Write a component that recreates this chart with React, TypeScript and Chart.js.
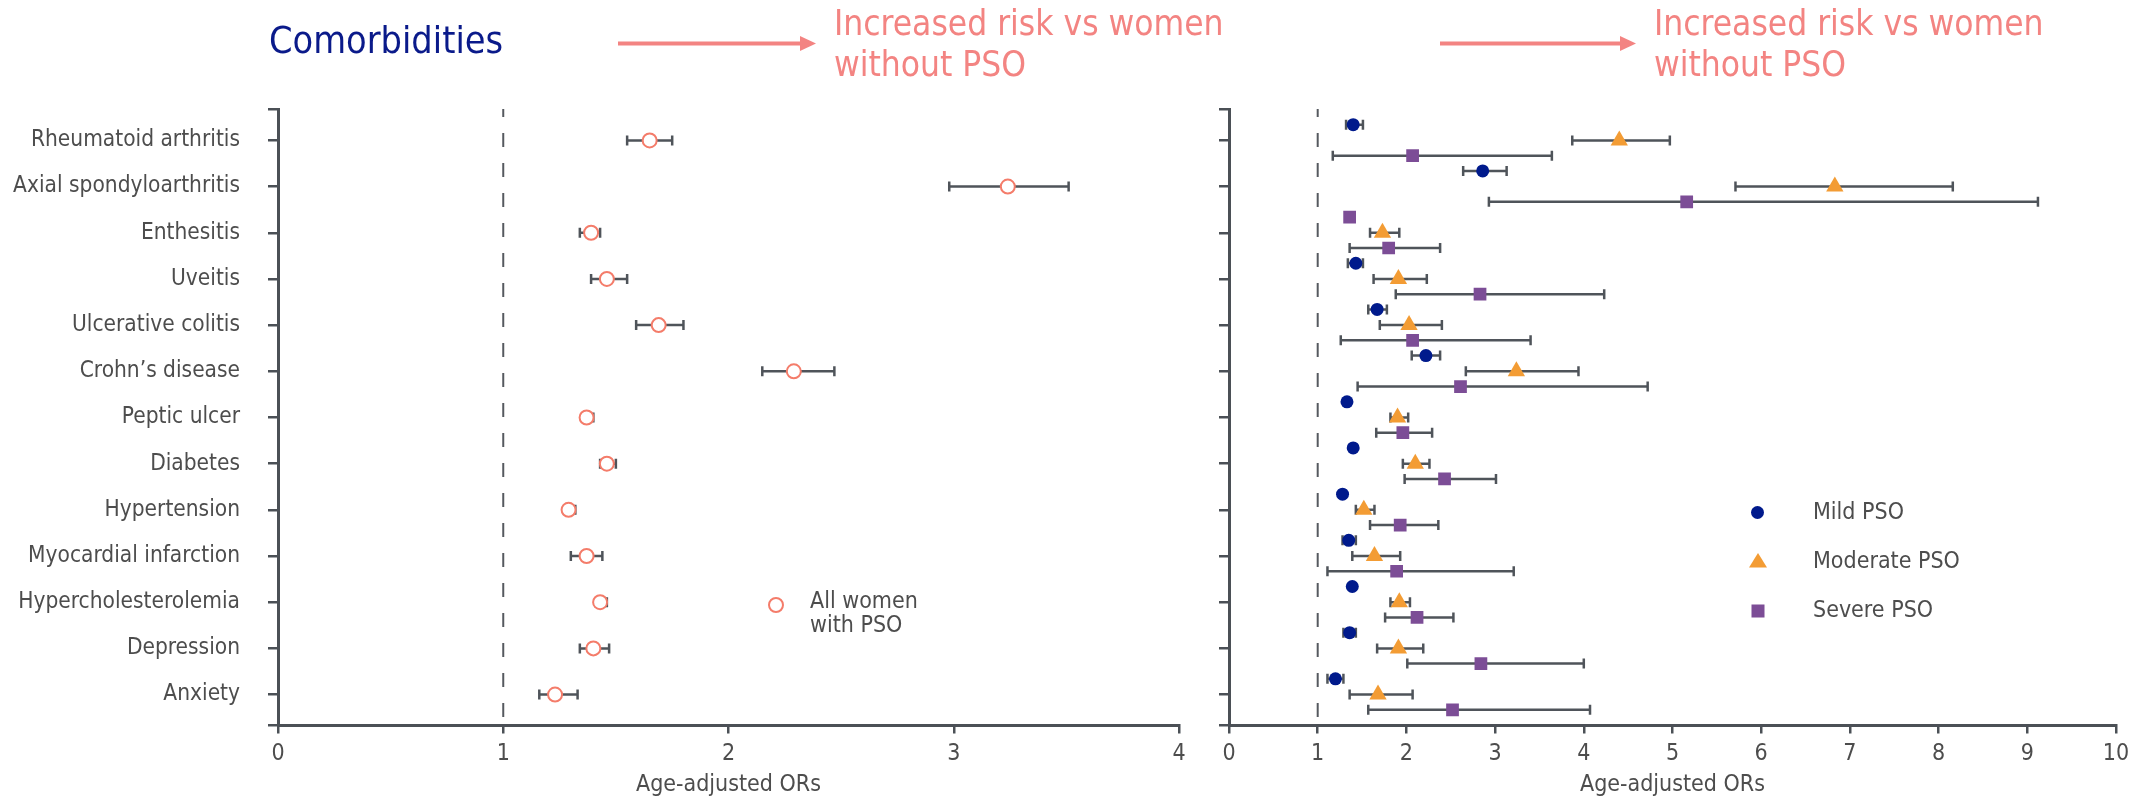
import React, { useEffect, useRef } from 'react';
import { Chart, registerables } from 'chart.js';

Chart.register(...registerables);

// ---------------- data ----------------
const categories = [
  'Rheumatoid arthritis',
  'Axial spondyloarthritis',
  'Enthesitis',
  'Uveitis',
  'Ulcerative colitis',
  'Crohn\u2019s disease',
  'Peptic ulcer',
  'Diabetes',
  'Hypertension',
  'Myocardial infarction',
  'Hypercholesterolemia',
  'Depression',
  'Anxiety',
];

const allWomenOR = [1.65, 3.24, 1.39, 1.46, 1.69, 2.29, 1.37, 1.46, 1.29, 1.37, 1.43, 1.40, 1.23];
const allWomenLow = [1.55, 2.98, 1.34, 1.39, 1.59, 2.15, 1.35, 1.43, 1.27, 1.30, 1.41, 1.34, 1.16];
const allWomenHigh = [1.75, 3.51, 1.43, 1.55, 1.80, 2.47, 1.40, 1.50, 1.32, 1.44, 1.46, 1.47, 1.33];

const mildOR = [1.40, 2.86, 1.36, 1.43, 1.67, 2.22, 1.33, 1.40, 1.28, 1.35, 1.39, 1.36, 1.20];
const mildLow = [1.32, 2.64, null, 1.34, 1.57, 2.06, null, null, null, 1.28, null, 1.29, 1.11];
const mildHigh = [1.51, 3.13, null, 1.51, 1.78, 2.38, null, null, null, 1.43, null, 1.43, 1.29];

const moderateOR = [4.40, 6.83, 1.73, 1.91, 2.03, 3.24, 1.90, 2.10, 1.52, 1.64, 1.92, 1.91, 1.68];
const moderateLow = [3.87, 5.71, 1.59, 1.63, 1.70, 2.67, 1.82, 1.96, 1.43, 1.39, 1.82, 1.67, 1.36];
const moderateHigh = [4.97, 8.16, 1.92, 2.23, 2.40, 3.94, 2.02, 2.26, 1.64, 1.93, 2.04, 2.19, 2.07];

const severeOR = [2.07, 5.16, 1.80, 2.83, 2.07, 2.61, 1.96, 2.43, 1.93, 1.89, 2.12, 2.84, 2.52];
const severeLow = [1.17, 2.93, 1.36, 1.88, 1.26, 1.45, 1.66, 1.98, 1.59, 1.11, 1.76, 2.01, 1.57];
const severeHigh = [3.64, 9.12, 2.38, 4.23, 3.40, 4.72, 2.29, 3.01, 2.36, 3.21, 2.53, 4.00, 4.07];

// in the original figure the mild marker of this row is drawn as a purple square
const mildDrawnAsSquare = ['Enthesitis'];

const leftXMax = 4;
const rightXMax = 10;
const referenceOR = 1;

const titleText = 'Comorbidities';
const riskText = ['Increased risk vs women', 'without PSO'];
const xTitle = 'Age-adjusted ORs';
const allWomenLabel = ['All women', 'with PSO'];
const severityNames = ['Mild PSO', 'Moderate PSO', 'Severe PSO'];

// ---------------- style ----------------
const FONT = "'DejaVu Sans Condensed', 'DejaVu Sans', sans-serif";
const TEXT = '#4d4d4d';
const AXIS = '#4b5056';
const BAR = '#4f545a';
const DASH = '#55595f';
const CORAL = '#f47c6a';
const PINK = '#f38482';
const NAVY = '#0a1a8a';
const MILD = '#001a8c';
const MODERATE = '#f39c34';
const SEVERE = '#7c4d96';

const Y_MIN = -0.68;
const Y_MAX = 12.67;
const PLOT_TOP = 109;
const PLOT_BOTTOM = 725.5;
const H = 801;

function ciData(lo: (number | null)[], hi: (number | null)[], off: number) {
  const pts: any[] = [];
  lo.forEach((l, i) => {
    if (l == null || hi[i] == null) return;
    pts.push({ x: l, y: i + off }, { x: hi[i], y: i + off }, { x: null, y: null });
  });
  return pts;
}

function ciDataset(lo: (number | null)[], hi: (number | null)[], off: number) {
  return {
    type: 'scatter',
    data: ciData(lo, hi, off),
    showLine: true,
    spanGaps: false,
    borderColor: BAR,
    borderWidth: 2.5,
    pointStyle: 'line',
    pointRotation: 90,
    pointRadius: 5,
    pointHoverRadius: 5,
    pointBorderWidth: 2.5,
    pointBorderColor: BAR,
    pointBackgroundColor: BAR,
    order: 2,
  };
}

function refLineDataset() {
  return {
    type: 'scatter',
    data: [
      { x: referenceOR, y: Y_MIN },
      { x: referenceOR, y: Y_MAX },
    ],
    showLine: true,
    borderColor: DASH,
    borderWidth: 2,
    borderDash: [14, 16],
    borderDashOffset: 6,
    pointRadius: 0,
    order: 3,
  };
}

function yScale(axisWidth: number, showLabels: boolean) {
  return {
    type: 'linear',
    reverse: true,
    min: Y_MIN,
    max: Y_MAX,
    afterBuildTicks: (s: any) => {
      s.ticks = [Y_MIN, ...categories.map((_, i) => i), Y_MAX].map((v) => ({ value: v }));
    },
    afterFit: (s: any) => {
      s.width = axisWidth;
      s.paddingTop = 0;
      s.paddingBottom = 0;
    },
    ticks: {
      autoSkip: false,
      padding: 28,
      color: TEXT,
      font: { family: FONT, size: 22.5 },
      callback: (v: number) => (showLabels && Number.isInteger(v) ? categories[v] : ''),
    },
    grid: {
      drawOnChartArea: false,
      drawTicks: true,
      tickLength: 10,
      lineWidth: 2.5,
      color: AXIS,
    },
    border: { display: true, width: 3, color: AXIS },
  };
}

function xScale(max: number) {
  return {
    type: 'linear',
    min: 0,
    max,
    afterFit: (s: any) => {
      s.height = H - PLOT_BOTTOM;
      s.paddingLeft = 0;
      s.paddingRight = 0;
    },
    ticks: {
      stepSize: 1,
      padding: 7,
      color: TEXT,
      font: { family: FONT, size: 23 },
    },
    grid: {
      drawOnChartArea: false,
      drawTicks: true,
      tickLength: 8,
      lineWidth: 2.5,
      color: AXIS,
    },
    border: { display: true, width: 3, color: AXIS },
    title: {
      display: true,
      text: xTitle,
      color: TEXT,
      font: { family: FONT, size: 23 },
      padding: { top: 0, bottom: 2 },
    },
  };
}

function baseOptions(padRight: number, yAxis: any, xAxis: any) {
  return {
    responsive: false,
    animation: false,
    devicePixelRatio: 1,
    events: [],
    layout: { padding: { left: 0, right: padRight, top: PLOT_TOP, bottom: 0 } },
    plugins: { legend: { display: false }, tooltip: { enabled: false }, title: { display: false } },
    scales: { x: xAxis, y: yAxis },
  };
}

function leftConfig(): any {
  return {
    type: 'scatter',
    data: {
      datasets: [
        {
          type: 'scatter',
          data: allWomenOR.map((v, i) => ({ x: v, y: i })),
          pointStyle: 'circle',
          pointRadius: 7,
          pointHoverRadius: 7,
          pointBorderWidth: 2,
          pointBorderColor: CORAL,
          pointBackgroundColor: '#ffffff',
          order: 0,
        },
        ciDataset(allWomenLow, allWomenHigh, 0),
        refLineDataset(),
      ],
    },
    options: baseOptions(21, yScale(278, true), xScale(leftXMax)),
  };
}

const MILD_OFF = -0.34;
const SEVERE_OFF = 0.33;

function rightConfig(): any {
  const isSq = (i: number) => mildDrawnAsSquare.includes(categories[i]);
  return {
    type: 'scatter',
    data: {
      datasets: [
        {
          type: 'scatter',
          data: mildOR.map((v, i) => ({ x: v, y: i + MILD_OFF })),
          pointStyle: (c: any) => (isSq(c.dataIndex) ? 'rect' : 'circle'),
          pointRadius: (c: any) => (isSq(c.dataIndex) ? 9 : 6.5),
          pointHoverRadius: (c: any) => (isSq(c.dataIndex) ? 9 : 6.5),
          pointBorderWidth: 0,
          pointBackgroundColor: (c: any) => (isSq(c.dataIndex) ? SEVERE : MILD),
          pointBorderColor: (c: any) => (isSq(c.dataIndex) ? SEVERE : MILD),
          order: 0,
        },
        {
          type: 'scatter',
          data: moderateOR.map((v, i) => ({ x: v, y: i })),
          pointStyle: 'triangle',
          pointRadius: 10,
          pointHoverRadius: 10,
          pointBorderWidth: 0,
          pointBackgroundColor: MODERATE,
          pointBorderColor: MODERATE,
          order: 0,
        },
        {
          type: 'scatter',
          data: severeOR.map((v, i) => ({ x: v, y: i + SEVERE_OFF })),
          pointStyle: 'rect',
          pointRadius: 9,
          pointHoverRadius: 9,
          pointBorderWidth: 0,
          pointBackgroundColor: SEVERE,
          pointBorderColor: SEVERE,
          order: 0,
        },
        ciDataset(mildLow, mildHigh, MILD_OFF),
        ciDataset(moderateLow, moderateHigh, 0),
        ciDataset(severeLow, severeHigh, SEVERE_OFF),
        refLineDataset(),
      ],
    },
    options: baseOptions(28, yScale(29, false), xScale(rightXMax)),
  };
}

function ChartCanvas({ left, width, make }: { left: number; width: number; make: () => any }) {
  const ref = useRef<HTMLCanvasElement | null>(null);
  useEffect(() => {
    if (!ref.current) return;
    const chart = new Chart(ref.current, make());
    return () => chart.destroy();
  }, []);
  return (
    <canvas
      ref={ref}
      width={width}
      height={H}
      style={{ position: 'absolute', left, top: 0, width, height: H }}
    />
  );
}

function Arrow({ x1, x2, y }: { x1: number; x2: number; y: number }) {
  const head = 16;
  return (
    <svg style={{ position: 'absolute', left: 0, top: 0 }} width={2144} height={100}>
      <line x1={x1} y1={y} x2={x2 - head + 2} y2={y} stroke={PINK} strokeWidth={4} />
      <polygon points={`${x2 - head},${y - 7.5} ${x2},${y} ${x2 - head},${y + 7.5}`} fill={PINK} />
    </svg>
  );
}

const textBase: React.CSSProperties = {
  position: 'absolute',
  fontFamily: FONT,
  whiteSpace: 'nowrap',
  margin: 0,
};

export default function App() {
  useEffect(() => {
    document.body.style.margin = '0';
  }, []);
  return (
    <div
      style={{
        position: 'absolute',
        left: 0,
        top: 0,
        width: 2144,
        height: H,
        background: '#ffffff',
        overflow: 'hidden',
      }}
    >
      <ChartCanvas left={0} width={1200} make={leftConfig} />
      <ChartCanvas left={1200} width={944} make={rightConfig} />

      <div style={{ ...textBase, left: 269, top: 22, fontSize: 37.5, lineHeight: '37px', color: NAVY }}>
        {titleText}
      </div>

      <Arrow x1={618} x2={816} y={43.5} />
      <Arrow x1={1440} x2={1636} y={43.5} />

      <div style={{ ...textBase, left: 834, top: 2.5, fontSize: 35, lineHeight: '41px', color: PINK }}>
        {riskText.map((t) => (
          <div key={t}>{t}</div>
        ))}
      </div>
      <div style={{ ...textBase, left: 1654, top: 2.5, fontSize: 35, lineHeight: '41px', color: PINK }}>
        {riskText.map((t) => (
          <div key={t}>{t}</div>
        ))}
      </div>

      {/* legend markers */}
      <svg style={{ position: 'absolute', left: 0, top: 0 }} width={2144} height={H}>
        <circle cx={776} cy={605} r={7} fill="#ffffff" stroke={CORAL} strokeWidth={2} />
        <circle cx={1757.5} cy={512.5} r={6.5} fill={MILD} />
        <polygon points="1749,567.5 1758,553 1767,567.5" fill={MODERATE} />
        <rect x={1751.5} y={604.5} width={13} height={13} fill={SEVERE} />
      </svg>
      <div style={{ ...textBase, left: 810, top: 587.5, fontSize: 23, lineHeight: '24px', color: TEXT }}>
        {allWomenLabel.map((t) => (
          <div key={t}>{t}</div>
        ))}
      </div>
      {severityNames.map((t, i) => (
        <div
          key={t}
          style={{ ...textBase, left: 1813, top: [499, 547.5, 596.5][i], fontSize: 23, lineHeight: '24px', color: TEXT }}
        >
          {t}
        </div>
      ))}
    </div>
  );
}
